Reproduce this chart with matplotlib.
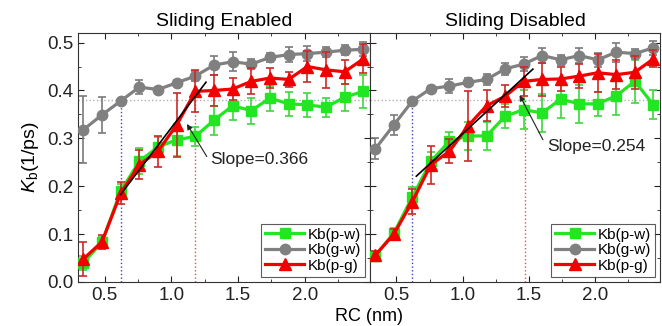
import matplotlib
matplotlib.use("Agg")
import matplotlib.pyplot as plt
from matplotlib.ticker import MultipleLocator

plt.rcParams['font.family'] = ['Liberation Sans', 'DejaVu Sans']
plt.rcParams['mathtext.fontset'] = 'custom'
plt.rcParams['mathtext.rm'] = 'Liberation Sans'
plt.rcParams['mathtext.it'] = 'Liberation Sans:italic'

# reaction coordinate (nm)
rc = [0.34, 0.48, 0.62, 0.76, 0.90, 1.04, 1.18, 1.32,
      1.46, 1.60, 1.74, 1.88, 2.02, 2.16, 2.30, 2.44]

# Sliding enabled
en_pw = [0.040, 0.083, 0.190, 0.252, 0.282, 0.297, 0.304, 0.338,
         0.368, 0.358, 0.384, 0.372, 0.370, 0.365, 0.386, 0.398]
en_pw_err = [0.015, 0.010, 0.015, 0.027, 0.020, 0.033, 0.020, 0.030,
             0.030, 0.027, 0.026, 0.025, 0.025, 0.020, 0.028, 0.035]
en_gw = [0.318, 0.349, 0.378, 0.407, 0.402, 0.416, 0.430, 0.453,
         0.460, 0.455, 0.469, 0.475, 0.477, 0.480, 0.484, 0.486]
en_gw_err = [0.070, 0.038, 0.005, 0.014, 0.005, 0.006, 0.010, 0.020,
             0.020, 0.010, 0.010, 0.015, 0.015, 0.010, 0.010, 0.015]
en_pg = [0.048, 0.084, 0.185, 0.245, 0.273, 0.328, 0.398, 0.400,
         0.403, 0.419, 0.426, 0.423, 0.450, 0.443, 0.439, 0.466]
en_pg_err = [0.035, 0.015, 0.023, 0.030, 0.032, 0.066, 0.044, 0.033,
             0.022, 0.027, 0.020, 0.015, 0.032, 0.037, 0.025, 0.030]

# Sliding disabled
dis_pw = [0.055, 0.102, 0.178, 0.252, 0.294, 0.305, 0.305, 0.346,
          0.360, 0.353, 0.382, 0.372, 0.372, 0.389, 0.419, 0.370]
dis_pw_err = [0.008, 0.010, 0.020, 0.020, 0.020, 0.030, 0.030, 0.025,
              0.040, 0.040, 0.040, 0.040, 0.025, 0.040, 0.045, 0.030]
dis_gw = [0.278, 0.328, 0.378, 0.404, 0.409, 0.417, 0.423, 0.445,
          0.455, 0.473, 0.464, 0.473, 0.464, 0.480, 0.477, 0.489]
dis_gw_err = [0.022, 0.020, 0.005, 0.006, 0.015, 0.008, 0.012, 0.012,
              0.015, 0.015, 0.010, 0.015, 0.015, 0.020, 0.010, 0.015]
dis_pg = [0.056, 0.100, 0.168, 0.245, 0.273, 0.326, 0.368, 0.388,
          0.419, 0.423, 0.424, 0.430, 0.437, 0.433, 0.438, 0.466]
dis_pg_err = [0.008, 0.010, 0.027, 0.040, 0.025, 0.073, 0.032, 0.023,
              0.030, 0.035, 0.025, 0.025, 0.040, 0.030, 0.035, 0.018]

# linear fits: (x start, x end, y at start, slope)
fit_en = (0.62, 1.26, 0.183, 0.366)
fit_dis = (0.65, 1.53, 0.221, 0.254)

ref_level = 0.38
left_cut = 0.62
right_cut_en = 1.18
right_cut_dis = 1.47

GREEN, GRAY, RED = '#22e622', '#808080', '#f20000'
GREEN_E, GRAY_E, RED_E = '#3cd83c', '#7a7a7a', '#cc2a2a'

fig = plt.figure(figsize=(6.62, 3.26), dpi=100)
ax1 = fig.add_axes([78 / 662, 44 / 326, 292 / 662, 249 / 326])
ax2 = fig.add_axes([370 / 662, 44 / 326, 290 / 662, 249 / 326])


def draw_panel(ax, pw, pw_err, gw, gw_err, pg, pg_err, fit, cut, title,
               slope_txt, txt_xy, arrow_tail, arrow_head):
    # guide lines
    ax.axhline(ref_level, color='#b0b0b0', ls=':', lw=1, zorder=1)
    ax.plot([left_cut, left_cut], [0, ref_level], color='#4040c0', ls=':', lw=1, zorder=1)
    ax.plot([cut, cut], [0, ref_level], color='#e05050', ls=':', lw=1, zorder=1)

    for y, e, c, ec, m, ms, lab, z in [
            (pw, pw_err, GREEN, GREEN_E, 's', 7, 'Kb(p-w)', 3),
            (gw, gw_err, GRAY, GRAY_E, 'o', 7.5, 'Kb(g-w)', 4),
            (pg, pg_err, RED, RED_E, '^', 8, 'Kb(p-g)', 5)]:
        ax.errorbar(rc, y, yerr=e, fmt='none', ecolor=ec, elinewidth=1.2,
                    capsize=3, capthick=1.2, zorder=z)
        ax.plot(rc, y, color=c, lw=2.3, marker=m, ms=ms, mec=c, mfc=c,
                label=lab, zorder=z)

    x0, x1, y0, k = fit
    ax.plot([x0, x1], [y0, y0 + k * (x1 - x0)], color='black', lw=1.2, zorder=6)

    ax.annotate('', xy=arrow_head, xytext=arrow_tail,
                arrowprops=dict(arrowstyle='-|>', color='#222222', lw=0.8,
                                mutation_scale=8, shrinkA=0, shrinkB=0),
                zorder=7)
    ax.text(txt_xy[0], txt_xy[1], slope_txt, fontsize=12.5, ha='left',
            va='center', color='#222222')

    ax.set_xlim(0.3, 2.49)
    ax.set_ylim(0.0, 0.52)
    ax.xaxis.set_major_locator(MultipleLocator(0.5))
    ax.xaxis.set_minor_locator(MultipleLocator(0.25))
    ax.yaxis.set_major_locator(MultipleLocator(0.1))
    ax.yaxis.set_minor_locator(MultipleLocator(0.05))
    ax.tick_params(which='both', direction='in', top=True, right=True,
                   labelsize=13.5, colors='#222222')
    ax.tick_params(which='major', length=4.5)
    ax.tick_params(which='minor', length=2.5)
    for s in ax.spines.values():
        s.set_color('#333333')
    ax.set_title(title, fontsize=14, pad=5)
    leg = ax.legend(loc='lower right', fontsize=11, frameon=True, fancybox=False,
                    borderpad=0.25, labelspacing=0.1, handlelength=2.6,
                    handletextpad=0.2, borderaxespad=0.35)
    leg.get_frame().set_edgecolor('#333333')
    leg.get_frame().set_linewidth(0.8)


draw_panel(ax1, en_pw, en_pw_err, en_gw, en_gw_err, en_pg, en_pg_err, fit_en,
           right_cut_en, 'Sliding Enabled', 'Slope=0.366', (1.29, 0.255),
           (1.266, 0.262), (1.117, 0.330))
draw_panel(ax2, dis_pw, dis_pw_err, dis_gw, dis_gw_err, dis_pg, dis_pg_err, fit_dis,
           right_cut_dis, 'Sliding Disabled', 'Slope=0.254', (1.64, 0.282),
           (1.606, 0.297), (1.43, 0.390))

ax1.xaxis.set_major_formatter(plt.FormatStrFormatter('%.1f'))
ax2.xaxis.set_major_formatter(plt.FormatStrFormatter('%.1f'))
ax1.yaxis.set_major_formatter(plt.FormatStrFormatter('%.1f'))
ax2.tick_params(labelleft=False)

ax1.set_ylabel('$K_\\mathrm{b}$(1/ps)', fontsize=14, labelpad=4)
fig.text(369 / 662, 0.03, 'RC (nm)', ha='center', va='center', fontsize=13)

fig.savefig('out.png', dpi=100)
